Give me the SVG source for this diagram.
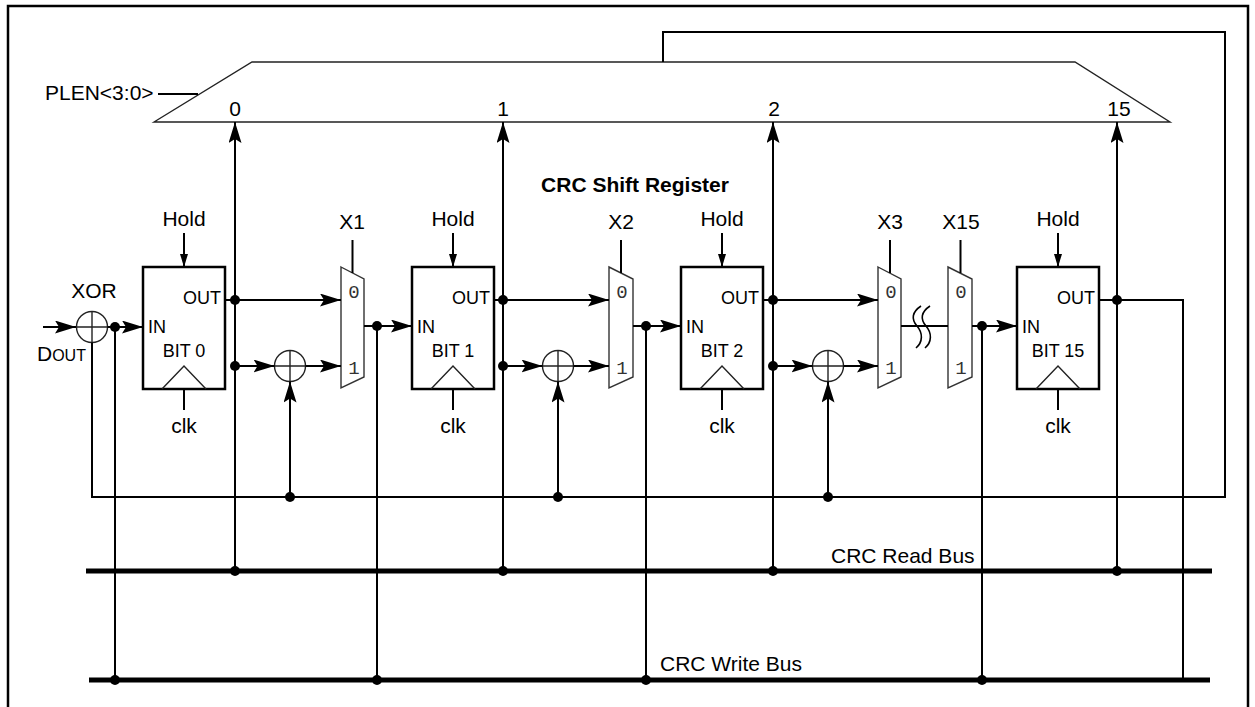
<svg xmlns="http://www.w3.org/2000/svg" width="1255" height="707" viewBox="0 0 1255 707">
<style>
.ln{stroke:#000;stroke-width:2;fill:none}
.th{stroke:#222;stroke-width:1.4;fill:none}
.mx{stroke:#333;stroke-width:1.4;fill:#fff}
.box{fill:#fff;stroke:#000;stroke-width:2.5}
.bus{stroke:#000;stroke-width:5}
.t{font-family:"Liberation Sans",Arial,sans-serif;font-size:21px;fill:#000}
.s{font-size:18px}
.c{text-anchor:middle}
.e{text-anchor:end}
.m{font-family:"Liberation Mono","Courier New",monospace;font-size:19px;fill:#333;text-anchor:middle}
.b{font-weight:bold}
</style>
<defs>
<marker id="a" markerUnits="userSpaceOnUse" markerWidth="23" markerHeight="14" refX="21" refY="6.5" orient="auto"><path d="M0,0 L21,6.5 L0,13 L4,6.5 z" fill="#000"/></marker>
<marker id="h" markerUnits="userSpaceOnUse" markerWidth="14" markerHeight="9" refX="13" refY="4" orient="auto"><path d="M0,0 L13,4 L0,8 z" fill="#000"/></marker>
<circle id="dot" r="5" fill="#000"/>
</defs>
<rect x="8" y="6" width="1240" height="706" fill="none" stroke="#000" stroke-width="2.5"/>

<g id="plen-mux">
<polygon points="154,122 252,62 1075,62 1170,122" class="th"/>
<text class="t" x="45" y="100">PLEN&lt;3:0&gt;</text>
<text class="t c" x="235" y="116">0</text>
<text class="t c" x="503" y="116">1</text>
<text class="t c" x="774" y="116">2</text>
<text class="t c" x="1119" y="116">15</text>
</g>

<text id="title" class="t b c" x="635" y="192">CRC Shift Register</text>

<g id="xor0">
<circle cx="92" cy="327" r="15.5" class="th"/>
<path d="M76.5 327 H107.5 M92 311.5 V342.5" class="th"/>
<text class="t c" x="94" y="298">XOR</text>
<text class="t" x="37" y="361" font-size="19">D<tspan font-size="16">OUT</tspan></text>
</g>

<g id="bit0">
<rect x="143" y="267" width="82" height="122" class="box"/>
<path d="M162 389 L184 366 L206 389" class="th"/>
<text class="t s e" x="221" y="304">OUT</text>
<text class="t s" x="148" y="333">IN</text>
<text class="t s c" x="184" y="357">BIT 0</text>
<text class="t c" x="184" y="226">Hold</text>
<text class="t c" x="184" y="433">clk</text>
</g>
<g id="bit1">
<rect x="412" y="267" width="82" height="122" class="box"/>
<path d="M431 389 L453 366 L475 389" class="th"/>
<text class="t s e" x="490" y="304">OUT</text>
<text class="t s" x="417" y="333">IN</text>
<text class="t s c" x="453" y="357">BIT 1</text>
<text class="t c" x="453" y="226">Hold</text>
<text class="t c" x="453" y="433">clk</text>
</g>
<g id="bit2">
<rect x="681" y="267" width="82" height="122" class="box"/>
<path d="M700 389 L722 366 L744 389" class="th"/>
<text class="t s e" x="759" y="304">OUT</text>
<text class="t s" x="686" y="333">IN</text>
<text class="t s c" x="722" y="357">BIT 2</text>
<text class="t c" x="722" y="226">Hold</text>
<text class="t c" x="722" y="433">clk</text>
</g>
<g id="bit15">
<rect x="1017" y="267" width="82" height="122" class="box"/>
<path d="M1036 389 L1058 366 L1080 389" class="th"/>
<text class="t s e" x="1095" y="304">OUT</text>
<text class="t s" x="1022" y="333">IN</text>
<text class="t s c" x="1058" y="357">BIT 15</text>
<text class="t c" x="1058" y="226">Hold</text>
<text class="t c" x="1058" y="433">clk</text>
</g>

<g id="xor1"><circle cx="290" cy="366" r="15.5" class="th"/><path d="M274.5 366 H305.5 M290 350.5 V381.5" class="th"/></g>
<g id="xor2"><circle cx="558" cy="366" r="15.5" class="th"/><path d="M542.5 366 H573.5 M558 350.5 V381.5" class="th"/></g>
<g id="xor3"><circle cx="828" cy="366" r="15.5" class="th"/><path d="M812.5 366 H843.5 M828 350.5 V381.5" class="th"/></g>

<g id="mux-x1">
<polygon points="341,267 364,279 364,377 341,388" class="mx"/>
<text class="m" x="354" y="298">0</text><text class="m" x="354" y="374">1</text>
<text class="t c" x="352" y="229">X1</text>
</g>
<g id="mux-x2">
<polygon points="609,267 633,279 633,377 609,388" class="mx"/>
<text class="m" x="622" y="298">0</text><text class="m" x="622" y="374">1</text>
<text class="t c" x="621" y="229">X2</text>
</g>
<g id="mux-x3">
<polygon points="878,267 901,279 901,377 878,388" class="mx"/>
<text class="m" x="891" y="298">0</text><text class="m" x="891" y="374">1</text>
<text class="t c" x="890" y="229">X3</text>
</g>
<g id="mux-x15">
<polygon points="948,267 972,279 972,377 948,388" class="mx"/>
<text class="m" x="961" y="298">0</text><text class="m" x="961" y="374">1</text>
<text class="t c" x="961" y="229">X15</text>
</g>

<g id="read-bus">
<line x1="86" y1="571" x2="1212" y2="571" class="bus"/>
<text class="t" x="831" y="563">CRC Read Bus</text>
</g>
<g id="write-bus">
<line x1="89" y1="680" x2="1210" y2="680" class="bus"/>
<text class="t" x="660" y="671">CRC Write Bus</text>
</g>

<g id="connectors">
<path d="M158 94 H198" class="ln"/>
<path d="M43 327 H76" class="ln" marker-end="url(#a)"/>
<path d="M107.5 327 H143" class="ln" marker-end="url(#a)"/>
<path d="M115 327 V680" class="ln"/>
<path d="M92 342.5 V497 H1225 V32 H663 V62" class="ln"/>
<path d="M184 233 V267" class="ln" marker-end="url(#h)"/>
<path d="M453 233 V267" class="ln" marker-end="url(#h)"/>
<path d="M722 233 V267" class="ln" marker-end="url(#h)"/>
<path d="M1058 233 V267" class="ln" marker-end="url(#h)"/>
<path d="M184 389 V410 M453 389 V410 M722 389 V410 M1058 389 V410" class="ln"/>

<path d="M225 300 H235" class="ln"/>
<path d="M235 571 V122" class="ln" marker-end="url(#a)"/>
<path d="M235 300 H341" class="ln" marker-end="url(#a)"/>
<path d="M235 366 H274.5" class="ln" marker-end="url(#a)"/>
<path d="M305.5 366 H341" class="ln" marker-end="url(#a)"/>
<path d="M290 497 V381.5" class="ln" marker-end="url(#a)"/>
<path d="M352.5 240 V273" class="ln"/>
<path d="M364 326 H412" class="ln" marker-end="url(#a)"/>
<path d="M377 326 V680" class="ln"/>

<path d="M494 300 H503" class="ln"/>
<path d="M503 571 V122" class="ln" marker-end="url(#a)"/>
<path d="M503 300 H609" class="ln" marker-end="url(#a)"/>
<path d="M503 366 H542.5" class="ln" marker-end="url(#a)"/>
<path d="M573.5 366 H609" class="ln" marker-end="url(#a)"/>
<path d="M558 497 V381.5" class="ln" marker-end="url(#a)"/>
<path d="M621 240 V273" class="ln"/>
<path d="M633 326 H681" class="ln" marker-end="url(#a)"/>
<path d="M646 326 V680" class="ln"/>

<path d="M763 300 H773" class="ln"/>
<path d="M773 571 V122" class="ln" marker-end="url(#a)"/>
<path d="M773 300 H878" class="ln" marker-end="url(#a)"/>
<path d="M773 366 H812.5" class="ln" marker-end="url(#a)"/>
<path d="M843.5 366 H878" class="ln" marker-end="url(#a)"/>
<path d="M828 497 V381.5" class="ln" marker-end="url(#a)"/>
<path d="M890 240 V273" class="ln"/>
<path d="M901 326 H948" class="ln"/>
<path d="M921 306 C912 312,911 319,917 326 C923 333,923 342,916 348 M930 306 C921 312,920 319,926 326 C932 333,932 342,925 348" stroke="#000" stroke-width="1.6" fill="none"/>
<path d="M960.5 240 V273" class="ln"/>
<path d="M972 326 H1017" class="ln" marker-end="url(#a)"/>
<path d="M982 326 V680" class="ln"/>

<path d="M1099 300 H1183 V680" class="ln"/>
<path d="M1117 571 V122" class="ln" marker-end="url(#a)"/>

<use href="#dot" x="115" y="327"/>
<use href="#dot" x="235" y="300"/><use href="#dot" x="235" y="366"/>
<use href="#dot" x="377" y="326"/>
<use href="#dot" x="503" y="300"/><use href="#dot" x="503" y="366"/>
<use href="#dot" x="646" y="326"/>
<use href="#dot" x="773" y="300"/><use href="#dot" x="773" y="366"/>
<use href="#dot" x="982" y="326"/>
<use href="#dot" x="1117" y="300"/>
<use href="#dot" x="290" y="497"/><use href="#dot" x="558" y="497"/><use href="#dot" x="828" y="497"/>
<use href="#dot" x="235" y="571"/><use href="#dot" x="503" y="571"/><use href="#dot" x="773" y="571"/><use href="#dot" x="1117" y="571"/>
<use href="#dot" x="115" y="680"/><use href="#dot" x="377" y="680"/><use href="#dot" x="646" y="680"/><use href="#dot" x="982" y="680"/>
</g>
</svg>
